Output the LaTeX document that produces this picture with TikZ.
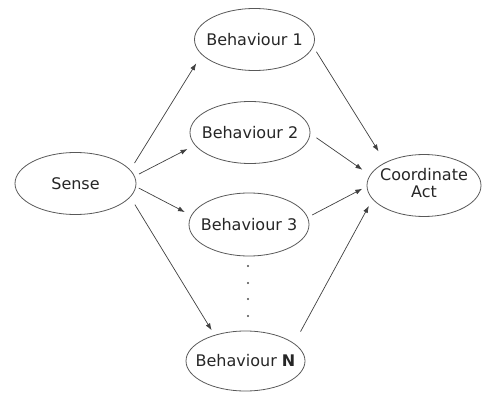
\documentclass[tikz,border=0pt]{standalone}
\usepackage{fontspec}
\setmainfont{DejaVu Sans}
\usetikzlibrary{shapes.geometric,arrows.meta}
\newcommand\lbl[1]{\makebox[0pt]{#1}}
\begin{document}
\begin{tikzpicture}[x=1pt,y=-1pt,
  state/.style={draw=black!65, line width=0.8pt, ellipse, inner sep=0pt,
    minimum width=120pt, minimum height=62pt,
    font=\fontsize{16}{16}\selectfont, text=black!85},
  conn/.style={draw=black!75, line width=0.7pt, -{Latex[length=7pt,width=5pt]}},
  dotmark/.style={circle, fill=black!70, inner sep=0pt, minimum size=2.2pt}]
\useasboundingbox (0,0) rectangle (482,393);
\node[state, minimum width=121pt] (s) at (75.5,183.5) {\lbl{Sense}};
\node[state] (b1) at (254.5,39.5) {\lbl{Behaviour 1}};
\node[state] (b2) at (250,132.5) {\lbl{Behaviour 2}};
\node[state, minimum height=63pt] (b3) at (249,224.5) {\lbl{Behaviour 3}};
\node[state, minimum width=119pt, minimum height=60pt] (bn) at (245.5,361) {\lbl{Behaviour \textbf{N}}};
\node[state, minimum width=114pt, minimum height=62pt] (ca) at (424,185.5)
  {\lbl{\begin{tabular}{@{}c@{}}Coordinate\\Act\end{tabular}}};
\node[dotmark] (d1) at (248,266) {};
\node[dotmark] (d2) at (248,283) {};
\node[dotmark] (d3) at (248,299) {};
\node[dotmark] (d4) at (248,316) {};
\draw[conn, shorten <=8pt, shorten >=10.2pt] (s.14.2) -- (b1.196.1);
\draw[conn, shorten <=4.9pt, shorten >=8.2pt] (s.7.9) -- (b2.193.7);
\draw[conn, shorten <=3pt, shorten >=7pt] (s.-3.2) -- (b3.171.6);
\draw[conn, shorten <=8.7pt, shorten >=5.5pt] (s.-14.6) -- (bn.140.3);
\draw[conn, shorten <=5.9pt, shorten >=12.8pt] (b1.-7) -- (ca.149.8);
\draw[conn, shorten <=7.4pt, shorten >=9.1pt] (b2.-1.6) -- (ca.169.2);
\draw[conn, shorten <=4.9pt, shorten >=4.9pt] (b3.7.1) -- (ca.181.6);
\draw[conn, shorten <=13.3pt, shorten >=7.5pt] (bn.20.2) -- (ca.195.1);
\end{tikzpicture}
\end{document}
